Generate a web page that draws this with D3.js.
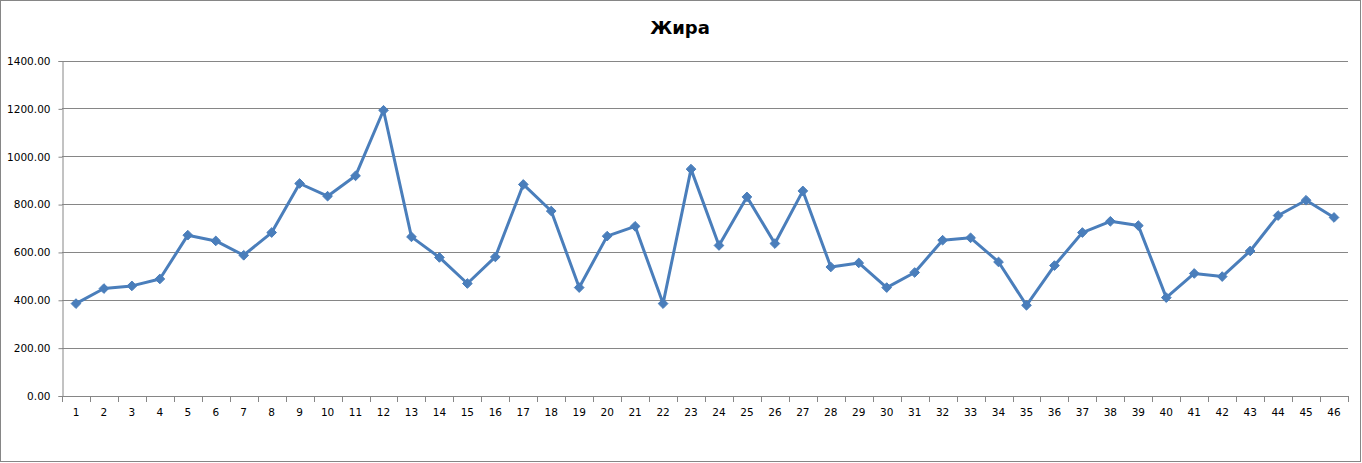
<!DOCTYPE html>
<html lang="ru">
<head>
    <meta charset="UTF-8">
    <title>Жира</title>
    <style>
        body { margin: 0; background: #fff; }
        svg { display: block; }
        text { font-family: "DejaVu Sans", sans-serif; }
    </style>
</head>
<body>
<svg></svg>
<script src="https://d3js.org/d3.v7.min.js"></script>
<script>
    var title = "Жира";
    var categories = d3.range(1, 47);
    var values = [384, 447, 458, 487, 670, 646, 586, 681, 886, 833,
                  918, 1192, 663, 577, 468, 579, 882, 771, 451, 666,
                  707, 384, 946, 627, 830, 635, 855, 537, 554, 451,
                  514, 649, 659, 558, 377, 543, 681, 728, 710, 409,
                  510, 497, 604, 752, 816, 744];
    var yTicks = [0, 200, 400, 600, 800, 1000, 1200, 1400];

    var width = 1362;
    var height = 463;
    var plotL = 62, plotR = 1348, plotT = 60.5, plotB = 395.5;

    var svg = d3.select("svg")
        .attr("width", width)
        .attr("height", height);

    // outer frame
    svg.append("rect")
        .attr("x", 0.5).attr("y", 0.5)
        .attr("width", width - 2).attr("height", height - 2)
        .attr("fill", "#fff")
        .attr("stroke", "#868686");

    var x = d3.scaleBand().domain(categories).range([plotL, plotR]);
    var y = d3.scaleLinear().domain([0, 1400]).range([plotB, plotT]);

    // gridlines
    svg.append("g")
        .selectAll("line")
        .data(yTicks.filter(function (d) { return d > 0; }))
        .enter().append("line")
        .attr("x1", plotL).attr("x2", plotR)
        .attr("y1", function (d) { return Math.round(y(d)) + 0.5; })
        .attr("y2", function (d) { return Math.round(y(d)) + 0.5; })
        .attr("stroke", "#868686");

    // y axis
    var yAxis = svg.append("g")
        .attr("transform", "translate(" + (plotL + 0.5) + ",0.5)")
        .call(d3.axisLeft(y).tickValues(yTicks).tickSize(4).tickPadding(8)
            .tickFormat(function (d) { return d.toFixed(2); }));
    yAxis.select(".domain").attr("stroke", "#868686");
    yAxis.selectAll(".tick line").attr("stroke", "#868686");
    yAxis.selectAll("text").attr("font-size", "10.5px").attr("fill", "#000")
        .attr("font-family", "DejaVu Sans");

    // x axis: ticks on category boundaries
    var xg = svg.append("g");
    xg.append("line")
        .attr("x1", plotL).attr("x2", plotR)
        .attr("y1", Math.round(plotB) + 0.5).attr("y2", Math.round(plotB) + 0.5)
        .attr("stroke", "#868686");
    xg.selectAll(".tk")
        .data(categories.concat([null]))
        .enter().append("line")
        .attr("x1", function (d, i) { return Math.round(plotL + i * x.step()) + 0.5; })
        .attr("x2", function (d, i) { return Math.round(plotL + i * x.step()) + 0.5; })
        .attr("y1", Math.round(plotB)).attr("y2", Math.round(plotB) + 6)
        .attr("stroke", "#868686");
    xg.selectAll("text")
        .data(categories)
        .enter().append("text")
        .attr("x", function (d) { return x(d) + x.bandwidth() / 2; })
        .attr("y", 416)
        .attr("text-anchor", "middle")
        .attr("font-size", "10.5px")
        .attr("fill", "#000")
        .text(function (d) { return d; });

    // line
    var cx = function (d, i) { return x(categories[i]) + x.bandwidth() / 2; };
    var line = d3.line()
        .x(cx)
        .y(function (d) { return y(d); });
    svg.append("path")
        .datum(values)
        .attr("d", line)
        .attr("fill", "none")
        .attr("stroke", "#4a7ebb")
        .attr("stroke-width", 3)
        .attr("stroke-linejoin", "round");

    // diamond markers
    svg.append("g")
        .selectAll("path")
        .data(values)
        .enter().append("path")
        .attr("transform", function (d, i) { return "translate(" + cx(d, i) + "," + y(d) + ")"; })
        .attr("d", d3.symbol().type(d3.symbolDiamond2).size(60))
        .attr("fill", "#4a7ebb")
        .attr("stroke", "#4a7ebb")
        .attr("stroke-width", 1);

    // title
    svg.append("text")
        .attr("x", 680)
        .attr("y", 34)
        .attr("text-anchor", "middle")
        .attr("font-size", "18px")
        .attr("font-weight", "bold")
        .attr("fill", "#000")
        .text(title);
</script>
</body>
</html>
